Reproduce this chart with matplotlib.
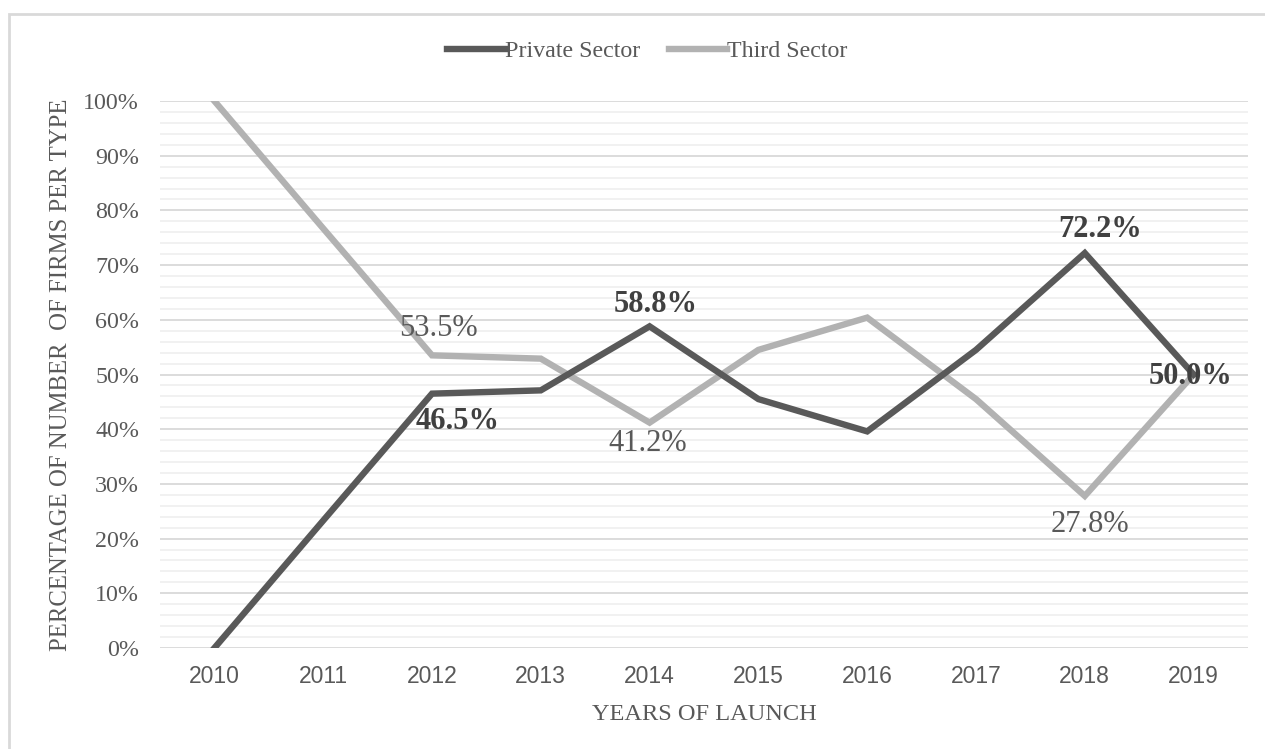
import numpy as np
import matplotlib.pyplot as plt
from matplotlib.patches import Rectangle
from matplotlib.ticker import MultipleLocator, PercentFormatter

years = ["2010", "2011", "2012", "2013", "2014", "2015", "2016", "2017", "2018", "2019"]
private_sector = [0.0, 23.3, 46.5, 47.1, 58.8, 45.5, 39.6, 54.5, 72.2, 50.0]
third_sector = [100.0, 76.7, 53.5, 52.9, 41.2, 54.5, 60.4, 45.5, 27.8, 50.0]

# (year index, pixel offset x, pixel offset y)
private_labels = [(2, 26, -28), (4, 6, 22), (8, 15, 24), (9, -3, -2)]
third_labels = [(2, 6, 27), (4, -2, -21), (8, 5, -29)]

DARK = "#595959"
LIGHT = "#b2b2b2"
SERIF = "Liberation Serif"
SANS = "Liberation Sans"

fig = plt.figure(figsize=(12.65, 7.49), dpi=100)
ax = fig.add_axes([160 / 1265, 1 - 648 / 749, 1088 / 1265, 547 / 749])

x = np.arange(len(years))
ax.plot(x, private_sector, color=DARK, lw=4.6, label="Private Sector",
        solid_joinstyle="miter", zorder=3)
ax.plot(x, third_sector, color=LIGHT, lw=4.6, label="Third Sector",
        solid_joinstyle="miter", zorder=2)

ax.set_xlim(-0.5, len(years) - 0.5)
ax.set_ylim(0, 100)
ax.set_xticks(x)
ax.set_xticklabels(years, fontfamily=SANS, fontsize=16.5, color=DARK)
ax.yaxis.set_major_locator(MultipleLocator(10))
ax.yaxis.set_minor_locator(MultipleLocator(2))
ax.yaxis.set_major_formatter(PercentFormatter(decimals=0))
for lab in ax.get_yticklabels():
    lab.set_fontfamily(SERIF)
    lab.set_fontsize(17.3)
    lab.set_color(DARK)
ax.tick_params(axis="both", which="both", length=0)
ax.tick_params(axis="y", pad=15)
ax.tick_params(axis="x", pad=12)

ax.grid(axis="y", which="major", color="#d9d9d9", lw=1.3)
ax.grid(axis="y", which="minor", color="#f0f0f0", lw=1.3)
ax.set_axisbelow(True)
for s in ax.spines.values():
    s.set_visible(False)

ax.set_xlabel("YEARS OF LAUNCH", fontfamily=SERIF, fontsize=17.6, color=DARK, labelpad=12)
ax.set_ylabel("PERCENTAGE OF NUMBER  OF FIRMS PER TYPE", fontfamily=SERIF,
              fontsize=17.8, color=DARK, labelpad=8)

for i, dx, dy in private_labels:
    ax.annotate(f"{private_sector[i]:.1f}%", (x[i], private_sector[i]),
                xytext=(dx, dy), textcoords="offset pixels", ha="center", va="center",
                fontfamily=SERIF, fontsize=22, fontweight="bold", color="#404040", zorder=5)
for i, dx, dy in third_labels:
    ax.annotate(f"{third_sector[i]:.1f}%", (x[i], third_sector[i]),
                xytext=(dx, dy), textcoords="offset pixels", ha="center", va="center",
                fontfamily=SERIF, fontsize=22, color=DARK, zorder=5)

fig.legend(loc="center", bbox_to_anchor=(647 / 1265, 1 - 51 / 749), ncol=2, frameon=False,
           prop={"family": SERIF, "size": 17.3}, labelcolor=DARK,
           handlelength=2.4, handletextpad=0.0, columnspacing=1.2)

# chart area outline
fig.patches.append(Rectangle((9 / 1265, -0.1), 1.2, 1 - 14 / 749 + 0.1,
                             transform=fig.transFigure, fill=False,
                             edgecolor="#d9d9d9", lw=2))

fig.savefig("out.png", dpi=100)
